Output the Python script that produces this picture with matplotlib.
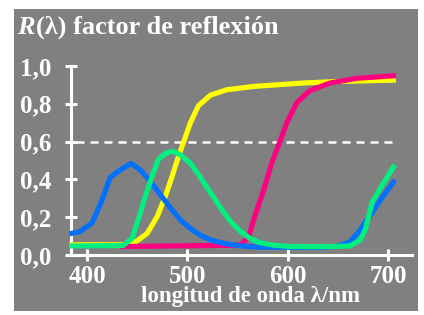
import matplotlib
matplotlib.use("Agg")
import matplotlib.pyplot as plt

# curvas de reflexion (lambda en nm, R)
azul_l = [385, 393, 405, 415, 423, 433, 444, 453, 463, 473, 483, 493, 503, 513,
          523, 536, 553, 569, 600, 640, 652, 662, 672, 682, 692, 705]
azul_r = [0.115, 0.124, 0.169, 0.29, 0.41, 0.45, 0.485, 0.45, 0.39, 0.32, 0.25,
          0.186, 0.14, 0.104, 0.08, 0.062, 0.048, 0.042, 0.041, 0.041, 0.05,
          0.07, 0.133, 0.21, 0.29, 0.385]

verde_l = [385, 436, 445, 451, 458, 465, 471, 478, 485, 493, 503, 513, 523, 533,
           543, 553, 562, 572, 586, 602, 640, 662, 672, 677, 684, 694, 705]
verde_r = [0.048, 0.05, 0.089, 0.186, 0.31, 0.42, 0.505, 0.537, 0.55, 0.53,
           0.485, 0.41, 0.33, 0.25, 0.177, 0.124, 0.089, 0.065, 0.052, 0.045,
           0.044, 0.048, 0.08, 0.133, 0.28, 0.37, 0.465]

amarillo_l = [385, 440, 450, 460, 470, 478, 485, 491, 497, 503, 511, 523, 539,
              566, 615, 649, 705]
amarillo_r = [0.054, 0.054, 0.075, 0.115, 0.204, 0.31, 0.42, 0.52, 0.61, 0.70,
              0.79, 0.846, 0.874, 0.892, 0.91, 0.918, 0.925]

magenta_l = [435, 553, 561, 567, 576, 584, 592, 599, 609, 622, 642, 669, 705]
magenta_r = [0.045, 0.052, 0.097, 0.204, 0.345, 0.488, 0.60, 0.70, 0.807,
             0.87, 0.91, 0.935, 0.948]

xticks = [400, 500, 600, 700]
yticks = [0.0, 0.2, 0.4, 0.6, 0.8, 1.0]
ylabels = ["0,0", "0,2", "0,4", "0,6", "0,8", "1,0"]
linea_ref = 0.6

gris = "#808080"
blanco = "white"
fuente = "Liberation Serif"

fig = plt.figure(figsize=(4.24, 3.15), dpi=100)
fig.patch.set_facecolor("white")

# fondo gris
fondo = fig.add_axes([14 / 424, 4 / 315, 404 / 424, 302 / 315])
fondo.set_facecolor(gris)
fondo.set_xticks([])
fondo.set_yticks([])
for s in fondo.spines.values():
    s.set_visible(False)

ax = fig.add_axes([71.3 / 424, 60 / 315, 340.4 / 424, 189 / 315])
ax.set_facecolor("none")

lw = 3.7
ax.plot(amarillo_l, amarillo_r, color="#ffff00", lw=lw, clip_on=False, zorder=3)
ax.plot(magenta_l, magenta_r, color="#ff0080", lw=lw, clip_on=False, zorder=4)
ax.plot(azul_l, azul_r, color="#0070ff", lw=lw, clip_on=False, zorder=5)
ax.plot(verde_l, verde_r, color="#00f080", lw=lw, clip_on=False, zorder=6)

ax.plot([389, 709], [linea_ref, linea_ref], color=blanco, lw=1.8,
        dashes=(3.2, 2.4), zorder=2)

ax.set_xlim(384.4, 723.3)
ax.set_ylim(0, 1.0)
for s in ["top", "right"]:
    ax.spines[s].set_visible(False)
for s in ["left", "bottom"]:
    ax.spines[s].set_color(blanco)
    ax.spines[s].set_linewidth(2.2)
    ax.spines[s].set_capstyle("projecting")

ax.set_xticks(xticks)
ax.set_yticks(yticks)
ax.set_yticklabels(ylabels)
ax.tick_params(direction="inout", length=8, width=2.2, color=blanco,
               labelcolor=blanco, labelsize=18)
ax.tick_params(axis="y", pad=10)
ax.tick_params(axis="x", pad=3)
for lab in ax.get_xticklabels() + ax.get_yticklabels():
    lab.set_fontfamily(fuente)
    lab.set_fontweight("bold")

# titulo
t1 = fig.text(17 / 424, 1 - 34 / 315, "R", color=blanco, fontsize=19,
              family=fuente, style="italic", weight="bold", va="baseline")
ax.annotate("(λ) factor de reflexión", xy=(1, 0), xycoords=t1,
            xytext=(1, 0), textcoords="offset points", color=blanco,
            fontsize=19, family=fuente, weight="bold", va="bottom",
            annotation_clip=False)

fig.text(250 / 424, 1 - 302 / 315, "longitud de onda λ/nm", color=blanco,
         fontsize=16.5, family=fuente, weight="bold", ha="center",
         va="baseline")

fig.savefig("out.png", dpi=100, facecolor=fig.get_facecolor())
